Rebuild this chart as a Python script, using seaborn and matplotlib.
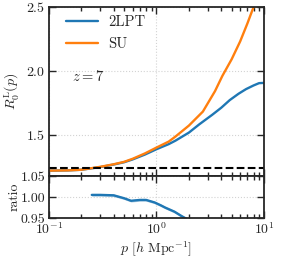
import numpy as np
import pandas as pd
import matplotlib
matplotlib.use("Agg")
import matplotlib.pyplot as plt
import seaborn as sns

# values
p_2lpt = [0.1, 0.15, 0.2, 0.3, 0.4, 0.5, 0.6, 0.78, 1.0, 1.3, 1.5, 2.0, 2.5,
          3.3, 4.0, 4.8, 5.8, 6.8, 8.0, 9.0, 10.0]
r_2lpt = [1.217, 1.219, 1.224, 1.245, 1.265, 1.283, 1.305, 1.343, 1.385,
          1.425, 1.452, 1.515, 1.58, 1.655, 1.71, 1.77, 1.82, 1.856, 1.885,
          1.903, 1.905]

p_su = [0.1, 0.15, 0.2, 0.3, 0.4, 0.5, 0.6, 0.78, 1.0, 1.3, 1.5, 2.0, 2.7,
        3.5, 4.1, 5.0, 6.0, 7.0, 8.0, 8.6]
r_su = [1.217, 1.219, 1.224, 1.247, 1.267, 1.286, 1.31, 1.352, 1.398, 1.445,
        1.484, 1.57, 1.68, 1.84, 1.96, 2.09, 2.23, 2.37, 2.5, 2.58]

p_ratio = [0.25, 0.3, 0.4, 0.5, 0.58, 0.7, 0.8, 0.96, 1.1, 1.2, 1.47, 1.7, 1.9]
ratio = [1.005, 1.005, 1.004, 0.997, 0.991, 0.993, 0.993, 0.987, 0.98,
         0.975, 0.965, 0.955, 0.948]
ratio_err = [0.003] * len(p_ratio)

linear_ref = 1.24
z_label = "$z = 7$"

sns.set_style("ticks")
plt.rcParams["font.family"] = "serif"
plt.rcParams["font.serif"] = ["cmr10", "DejaVu Serif"]
plt.rcParams["mathtext.fontset"] = "cm"
plt.rcParams["axes.formatter.use_mathtext"] = True
plt.rcParams["font.size"] = 10
plt.rcParams["xtick.labelsize"] = 10
plt.rcParams["ytick.labelsize"] = 10
plt.rcParams["axes.labelsize"] = 10

df = pd.concat([
    pd.DataFrame({"p": p_2lpt, "R": r_2lpt, "model": "2LPT"}),
    pd.DataFrame({"p": p_su, "R": r_su, "model": "SU"}),
])
dr = pd.DataFrame({"p": p_ratio, "ratio": ratio, "err": ratio_err})

fig = plt.figure(figsize=(2.95, 2.59), dpi=100)
W, H = 295, 259
ax = fig.add_axes([49 / W, 1 - 176 / H, 215 / W, 169 / H])
axr = fig.add_axes([49 / W, 1 - 218 / H, 215 / W, 42 / H], sharex=ax)

sns.lineplot(data=df, x="p", y="R", hue="model",
             palette=["#1f77b4", "#ff7f0e"], lw=1.7, ax=ax)
ax.axhline(linear_ref, color="k", ls="--", lw=1.5)
ax.set_xscale("log")
ax.set_xlim(0.1, 10)
ax.set_ylim(1.175, 2.5)
ax.set_yticks([1.5, 2.0, 2.5])
ax.set_xlabel("")
ax.set_ylabel(r"$R_0^{\rm L}(p)$")
ax.tick_params(labelbottom=False)
ax.text(0.107, 0.56, z_label, transform=ax.transAxes, fontsize=10.5)
ax.legend(frameon=False, loc="upper left", bbox_to_anchor=(0.05, 0.985),
          borderaxespad=0, handlelength=2.2, labelspacing=0.55,
          handletextpad=0.7, fontsize=10.5)

sns.lineplot(data=dr, x="p", y="ratio", color="#1f77b4", lw=1.7, ax=axr)
axr.fill_between(dr["p"], dr["ratio"] - dr["err"], dr["ratio"] + dr["err"],
                 color="#1f77b4", alpha=0.35, lw=0)
axr.set_ylim(0.95, 1.05)
axr.set_yticks([0.95, 1.00, 1.05])
axr.set_yticklabels(["0.95", "1.00", "1.05"])
axr.set_xlim(0.1, 10)
axr.set_ylabel("ratio")
axr.set_xlabel(r"$p\ [h\ {\rm Mpc}^{-1}]$")

for a in (ax, axr):
    a.grid(True, which="major", color="lightgray", ls=":", lw=0.8)
    a.tick_params(which="both", direction="in", top=True, right=True,
                  width=1.0, pad=2.5)
    a.tick_params(which="major", length=5)
    a.tick_params(which="minor", length=3)
    for s in a.spines.values():
        s.set_linewidth(1.3)
ax.yaxis.set_label_coords(-0.13, 0.5)
axr.yaxis.set_label_coords(-0.13, 0.5)
axr.xaxis.set_label_coords(0.5, -0.52)

fig.savefig("out.png", dpi=100)
